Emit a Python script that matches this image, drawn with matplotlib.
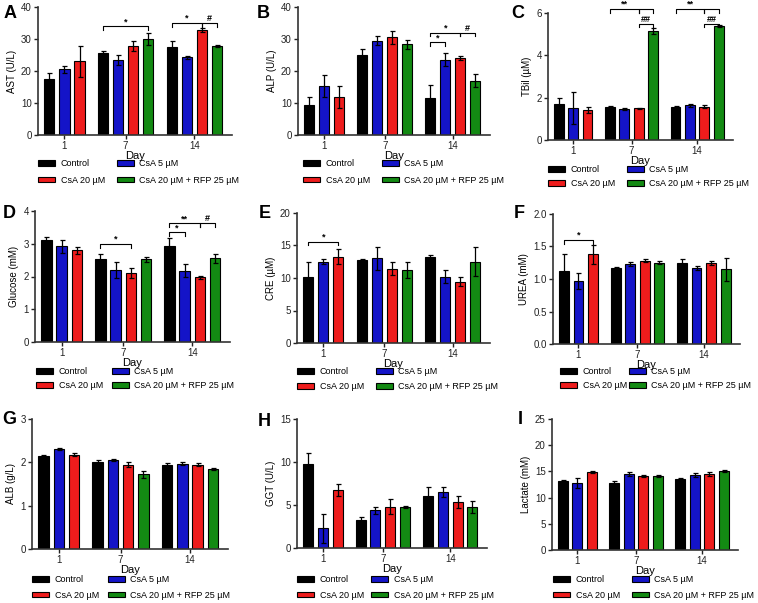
import matplotlib.pyplot as plt
import numpy as np

plt.rcParams["font.family"] = ["Liberation Sans", "DejaVu Sans"]

days = ["1", "7", "14"]
groups = ["Control", "CsA 5 µM", "CsA 20 µM", "CsA 20 µM + RFP 25 µM"]
colors = ["#000000", "#1414c8", "#ee1c1c", "#138a13"]

# values: one list per day (day 1 has no RFP group)
ast_mean = [[17.5, 20.5, 23.0], [25.5, 23.5, 27.8, 30.0], [27.5, 24.3, 32.8, 27.8]]
ast_err = [[2.0, 1.0, 4.8], [0.6, 1.5, 1.6, 2.0], [2.0, 0.4, 0.6, 0.4]]
alp_mean = [[9.5, 15.3, 11.8], [25.0, 29.5, 30.5, 28.3], [11.5, 23.5, 24.0, 17.0]]
alp_err = [[2.3, 3.5, 3.5], [2.0, 1.5, 2.0, 1.3], [4.0, 2.0, 0.6, 2.0]]
tbil_mean = [[1.72, 1.50, 1.42], [1.57, 1.47, 1.50, 5.15], [1.57, 1.63, 1.57, 5.40]]
tbil_err = [[0.25, 0.75, 0.15], [0.03, 0.03, 0.03, 0.12], [0.05, 0.05, 0.07, 0.05]]
glu_mean = [[3.10, 2.92, 2.80], [2.53, 2.20, 2.10, 2.53], [2.92, 2.18, 1.97, 2.55]]
glu_err = [[0.10, 0.20, 0.10], [0.15, 0.25, 0.15, 0.08], [0.25, 0.20, 0.05, 0.15]]
cre_mean = [[10.2, 12.5, 13.3], [12.7, 13.0, 11.4, 11.2], [13.3, 10.2, 9.4, 12.5]]
cre_err = [[2.2, 0.4, 1.2], [0.2, 1.7, 1.0, 1.2], [0.3, 1.0, 0.7, 2.2]]
urea_mean = [[1.13, 0.97, 1.38], [1.17, 1.23, 1.28, 1.25], [1.25, 1.17, 1.25, 1.15]]
urea_err = [[0.25, 0.12, 0.15], [0.02, 0.03, 0.02, 0.02], [0.05, 0.03, 0.03, 0.18]]
alb_mean = [[2.15, 2.30, 2.18], [2.00, 2.05, 1.95, 1.73], [1.95, 1.97, 1.95, 1.85]]
alb_err = [[0.03, 0.02, 0.03], [0.05, 0.03, 0.05, 0.08], [0.03, 0.03, 0.03, 0.03]]
ggt_mean = [[9.8, 2.3, 6.7], [3.3, 4.4, 4.8, 4.8], [6.1, 6.5, 5.3, 4.8]]
ggt_err = [[1.2, 1.7, 0.7], [0.3, 0.4, 0.9, 0.1], [1.0, 0.6, 0.7, 0.7]]
lac_mean = [[13.2, 12.8, 14.8], [12.8, 14.5, 14.2, 14.2], [13.6, 14.3, 14.5, 15.0]]
lac_err = [[0.2, 1.0, 0.2], [0.4, 0.3, 0.2, 0.2], [0.2, 0.3, 0.3, 0.2]]

# significance marks: (day index, first bar, second bar, height, label)
ast_sig = [(1, 0, 3, 34, "*"), (2, 0, 2, 35, "*"), (2, 2, 3, 35, "#")]
alp_sig = [(2, 0, 1, 29, "*"), (2, 0, 2, 32, "*"), (2, 2, 3, 32, "#")]
tbil_sig = [(1, 0, 2, 6.2, "**"), (1, 2, 3, 6.2, ""), (1, 2, 3, 5.5, "##"),
            (2, 0, 2, 6.2, "**"), (2, 2, 3, 6.2, ""), (2, 2, 3, 5.5, "##")]
glu_sig = [(1, 0, 2, 3.0, "*"), (2, 0, 1, 3.35, "*"), (2, 0, 2, 3.62, "**"), (2, 2, 3, 3.62, "#")]
cre_sig = [(0, 0, 2, 15.6, "*")]
urea_sig = [(0, 0, 2, 1.6, "*")]

panels = [
    # letter, ylabel, means, errs, ymax, step, fmt, sig, axes box (px: l, t, r, b), letter pos,
    # legend (left px, top px, column spacing, label spacing)
    ("A", "AST (U/L)", ast_mean, ast_err, 40, 10, "{:.0f}", ast_sig, (38, 7, 232, 135), (10, 13), (38, 159, 1.3, 0.85)),
    ("B", "ALP (U/L)", alp_mean, alp_err, 40, 10, "{:.0f}", alp_sig, (298, 7, 490, 135), (263, 13), (303, 159, 1.3, 0.85)),
    ("C", "TBil (µM)", tbil_mean, tbil_err, 6, 2, "{:.0f}", tbil_sig, (548, 13, 733, 140), (518, 13), (548, 165, 1.3, 0.6)),
    ("D", "Glucose (mM)", glu_mean, glu_err, 4, 1, "{:.0f}", glu_sig, (35, 211, 230, 342), (9, 214), (36, 367, 1.0, 0.6)),
    ("E", "CRE (µM)", cre_mean, cre_err, 20, 5, "{:.0f}", cre_sig, (297, 213, 490, 343), (265, 214), (297, 367, 1.3, 0.65)),
    ("F", "UREA (mM)", urea_mean, urea_err, 2.0, 0.5, "{:.1f}", urea_sig, (553, 214, 740, 344), (519, 214), (560, 367, 0.2, 0.6)),
    ("G", "ALB (g/L)", alb_mean, alb_err, 3, 1, "{:.0f}", [], (32, 419, 228, 549), (9, 420), (32, 575, 1.0, 0.75)),
    ("H", "GGT (U/L)", ggt_mean, ggt_err, 15, 5, "{:.0f}", [], (297, 419, 487, 548), (264, 421), (297, 575, 0.8, 0.75)),
    ("I", "Lactate (mM)", lac_mean, lac_err, 25, 5, "{:.0f}", [], (552, 419, 738, 550), (520, 420), (553, 575, 1.3, 0.75)),
]

W, H = 758, 603
fig = plt.figure(figsize=(W / 100, H / 100), dpi=100)

group_gap = 1.556
bar_w = 0.68

for letter, ylabel, means, errs, ymax, step, fmt, sig, box, lpos, leg in panels:
    l, t, r, b = box
    ax = fig.add_axes([l / W, 1 - b / H, (r - l) / W, (b - t) / H])

    # bar slots run on, with a wider gap between days
    positions = []
    start = 0.0
    for d in range(len(days)):
        p = start + np.arange(len(means[d]))
        positions.append(p)
        start = p[-1] + group_gap

    handles = []
    for d in range(len(days)):
        for g, (m, e) in enumerate(zip(means[d], errs[d])):
            x = positions[d][g]
            h = ax.bar(x, m, width=bar_w, color=colors[g], edgecolor="black", linewidth=0.8, zorder=2)
            ax.errorbar(x, m, yerr=e, fmt="none", ecolor="black", elinewidth=0.9, capsize=1.8,
                        capthick=0.9, zorder=3)
            if d == 1:
                handles.append(h)

    drop = ymax * 0.03
    for d, i, j, y, lab in sig:
        x1, x2 = positions[d][i], positions[d][j]
        ax.plot([x1, x1, x2, x2], [y - drop, y, y, y - drop], color="black", lw=0.8, clip_on=False)
        if lab:
            ax.text((x1 + x2) / 2, y, lab, ha="center", va="bottom", fontsize=6.5,
                    fontweight="bold")

    ax.set_xlim(-0.75, 12.1)
    ax.set_ylim(0, ymax)
    ticks = np.arange(0, ymax + step / 2, step)
    ax.set_yticks(ticks)
    ax.set_yticklabels([fmt.format(v) for v in ticks])
    ax.set_xticks([p.mean() for p in positions])
    ax.set_xticklabels(days)
    for s in ["top", "right"]:
        ax.spines[s].set_visible(False)
    for s in ["left", "bottom"]:
        ax.spines[s].set_linewidth(1.2)
        ax.spines[s].set_color("#333333")
    ax.tick_params(labelsize=7, length=3, width=1, colors="#222222", pad=1.5)
    ax.set_ylabel(ylabel, fontsize=7, labelpad=3)
    ax.set_xlabel("Day", fontsize=8, labelpad=0)

    fig.text(lpos[0] / W, 1 - lpos[1] / H, letter, fontsize=13, fontweight="bold",
             ha="center", va="center")

    lx, ly, cspace, lspace = leg
    order = [0, 2, 1, 3]
    ax.legend([handles[k] for k in order], [groups[k] for k in order], ncol=2,
              loc="upper left", bbox_to_anchor=(lx / W, 1 - ly / H),
              bbox_transform=fig.transFigure, frameon=False, fontsize=6.5,
              handlelength=1.9, handleheight=0.6, handletextpad=0.6,
              columnspacing=cspace, labelspacing=lspace, borderpad=0, borderaxespad=0)

fig.savefig("out.png", dpi=100)
